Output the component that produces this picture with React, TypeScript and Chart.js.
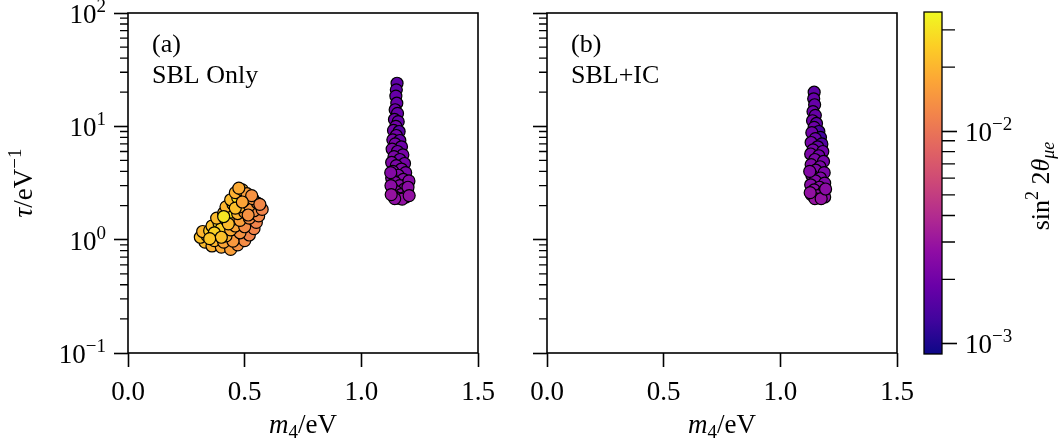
import React, { useEffect, useRef } from "react";
import { Chart, registerables } from "chart.js";

Chart.register(...registerables);

// ---------------- data ----------------
// (a) SBL only: low-mass island and high-mass column
const sblM4 = [
  0.33, 0.36, 0.40, 0.44, 0.47, 0.50, 0.31, 0.34, 0.37, 0.41, 0.45, 0.52, 0.32, 0.35, 0.38,
  0.42, 0.48, 0.54, 0.36, 0.39, 0.40, 0.44, 0.46, 0.50, 0.55, 0.38, 0.42, 0.45, 0.48, 0.52,
  0.56, 0.41, 0.44, 0.47, 0.50, 0.54, 0.575, 0.42, 0.45, 0.48, 0.52, 0.555, 0.44, 0.47, 0.50,
  0.535, 0.46, 0.49, 0.51, 0.53, 0.475, 0.43, 0.37, 0.41, 0.46, 0.49, 0.515, 0.565, 0.40, 0.35,
  1.153, 1.150, 1.148, 1.152, 1.145, 1.155, 1.142, 1.158, 1.148, 1.138, 1.162, 1.150, 1.135, 1.165, 1.145,
  1.172, 1.132, 1.155, 1.178, 1.140, 1.165, 1.130, 1.185, 1.150, 1.172, 1.135, 1.190, 1.158, 1.130, 1.180,
  1.145, 1.195, 1.165, 1.132, 1.185, 1.150, 1.198, 1.170, 1.138, 1.190, 1.158, 1.175, 1.143,
  1.126, 1.204, 1.127, 1.200, 1.128, 1.205,
];
const sblTau = [
  0.95, 0.88, 0.86, 0.82, 0.90, 0.98, 1.05, 1.08, 0.98, 0.95, 0.97, 1.10, 1.18, 1.20, 1.12,
  1.08, 1.15, 1.25, 1.32, 1.40, 1.25, 1.22, 1.32, 1.30, 1.42, 1.55, 1.50, 1.52, 1.48, 1.55,
  1.62, 1.72, 1.75, 1.70, 1.75, 1.80, 1.85, 1.95, 2.05, 1.95, 2.00, 2.10, 2.25, 2.35, 2.25,
  2.30, 2.60, 2.75, 2.55, 2.45, 2.85, 1.38, 1.15, 1.60, 1.90, 2.15, 1.65, 2.05, 1.05, 1.02,
  24, 21, 18.5, 16, 14, 13, 11.5, 11, 10, 9.2, 9.0, 8.3, 7.6, 7.5, 7.0,
  6.6, 6.3, 6.0, 5.6, 5.4, 5.1, 4.8, 4.7, 4.5, 4.2, 4.0, 3.9, 3.7, 3.5, 3.4,
  3.2, 3.1, 3.0, 2.85, 2.8, 2.65, 2.6, 2.5, 2.45, 2.38, 2.32, 2.28, 2.3,
  3.9, 3.3, 3.0, 2.9, 2.5, 2.45,
];
const sblSin2 = [
  0.021, 0.019, 0.018, 0.016, 0.014, 0.013, 0.022, 0.024, 0.020, 0.017, 0.015, 0.012, 0.020, 0.024, 0.023,
  0.019, 0.014, 0.012, 0.022, 0.028, 0.025, 0.018, 0.017, 0.013, 0.012, 0.021, 0.024, 0.019, 0.016, 0.013,
  0.0125, 0.022, 0.030, 0.020, 0.016, 0.013, 0.012, 0.020, 0.029, 0.019, 0.015, 0.013, 0.021, 0.030, 0.018,
  0.014, 0.019, 0.021, 0.016, 0.014, 0.018, 0.021, 0.026, 0.031, 0.022, 0.017, 0.014, 0.0125, 0.022, 0.023,
  0.0017, 0.0017, 0.0018, 0.0018, 0.0019, 0.0018, 0.0019, 0.0018, 0.0020, 0.0020, 0.0016, 0.0020, 0.0021, 0.0018, 0.0021,
  0.0019, 0.0022, 0.0020, 0.0021, 0.0022, 0.0020, 0.0023, 0.0021, 0.0022, 0.0023, 0.0024, 0.0022, 0.0023, 0.0025, 0.0024,
  0.0024, 0.0023, 0.0025, 0.0026, 0.0025, 0.0026, 0.0024, 0.0027, 0.0027, 0.0026, 0.0028, 0.0028, 0.0027,
  0.0024, 0.0025, 0.0026, 0.0026, 0.0029, 0.0028,
];

// (b) SBL + IC
const icM4 = [
  1.145, 1.143, 1.147, 1.140, 1.150, 1.138, 1.155, 1.145, 1.165, 1.135, 1.172, 1.150, 1.132, 1.178, 1.160,
  1.140, 1.182, 1.130, 1.165, 1.148, 1.185, 1.132, 1.170, 1.152, 1.188, 1.135, 1.172, 1.150, 1.190, 1.130,
  1.168, 1.145, 1.185, 1.133, 1.160, 1.190, 1.148, 1.175, 1.126, 1.194, 1.128,
];
const icTau = [
  20, 17.5, 15.5, 13.5, 12.5, 11.2, 10.6, 9.8, 9.0, 8.8, 8.0, 7.8, 7.2, 7.0, 6.6,
  6.2, 6.0, 5.7, 5.5, 5.1, 4.9, 4.6, 4.4, 4.1, 3.9, 3.7, 3.5, 3.3, 3.15, 3.05,
  2.9, 2.75, 2.65, 2.5, 2.45, 2.38, 2.3, 2.3, 4.0, 2.8, 2.6,
];
const icSin2 = [
  0.0017, 0.0018, 0.0018, 0.0019, 0.0018, 0.0020, 0.0017, 0.0019, 0.0014, 0.0020, 0.0013, 0.0019, 0.0021, 0.0015, 0.0018,
  0.0021, 0.0020, 0.0022, 0.0020, 0.0022, 0.0021, 0.0023, 0.0022, 0.0023, 0.0022, 0.0024, 0.0023, 0.0024, 0.0023, 0.0025,
  0.0025, 0.0026, 0.0025, 0.0027, 0.0027, 0.0026, 0.0029, 0.0028, 0.0024, 0.0026, 0.0028,
];

// ticks / labels
const xTicks = [0, 0.5, 1.0, 1.5];
const yMajor = [0.1, 1, 10, 100];
const yMajorExp = ["\u22121", "0", "1", "2"];
const cbarMajor = [0.001, 0.01];
const cbarMajorExp = ["\u22123", "\u22122"];
const cbarMin = 8.9e-4;
const cbarMax = 0.0364;
const panelTags = ["(a)", "(b)"];
const panelNames = ["SBL Only", "SBL+IC"];

// minor tick positions (2..9 x decade)
const yMinor: number[] = [];
for (const d of [0.1, 1, 10]) for (let k = 2; k <= 9; k++) yMinor.push(k * d);
const cbarMinor: number[] = [];
for (const d of [0.001, 0.01]) for (let k = 2; k <= 9; k++) if (k * d < cbarMax) cbarMinor.push(k * d);

// ---------------- style ----------------
const W = 1064;
const H = 443;
const TOP = 13;
const BOTTOM = 353;
const FONT = "'Liberation Serif', 'DejaVu Serif', serif";
const PANELS = [
  { left: 128, right: 478, yW: 128 },
  { left: 547, right: 897, yW: 40 },
];

const PLASMA: number[][] = [
  [13, 8, 135], [65, 4, 157], [106, 0, 168], [143, 13, 164], [177, 42, 144], [204, 71, 120],
  [225, 100, 98], [242, 132, 75], [252, 166, 54], [252, 206, 37], [240, 249, 33],
];
function plasmaAt(t: number): string {
  const tt = Math.max(0, Math.min(1, t)) * (PLASMA.length - 1);
  const i = Math.min(PLASMA.length - 2, Math.floor(tt));
  const f = tt - i;
  const a = PLASMA[i], b = PLASMA[i + 1];
  const c = a.map((v, k) => Math.round(v + (b[k] - v) * f));
  return `rgb(${c[0]},${c[1]},${c[2]})`;
}
function colorFor(v: number): string {
  const lo = Math.log10(cbarMin), hi = Math.log10(cbarMax);
  return plasmaAt((Math.log10(v) - lo) / (hi - lo));
}

type Seg = { t: string; size: number; style?: string; dy?: number };
function drawRich(ctx: CanvasRenderingContext2D, segs: Seg[], x: number, y: number, align: string, rot = 0) {
  ctx.save();
  ctx.translate(x, y);
  if (rot) ctx.rotate(rot);
  ctx.textAlign = "left";
  ctx.textBaseline = "alphabetic";
  ctx.fillStyle = "#000";
  const fontOf = (s: Seg) => `${s.style || "normal"} ${s.size}px ${FONT}`;
  let w = 0;
  for (const s of segs) { ctx.font = fontOf(s); w += ctx.measureText(s.t).width; }
  let cx = align === "left" ? 0 : align === "center" ? -w / 2 : -w;
  for (const s of segs) {
    ctx.font = fontOf(s);
    ctx.fillText(s.t, cx, s.dy || 0);
    cx += ctx.measureText(s.t).width;
  }
  ctx.restore();
}

const panelDecor = {
  id: "panelDecor",
  afterDraw(chart: any, _args: any, opts: any) {
    const i = opts.index as number;
    const ctx: CanvasRenderingContext2D = chart.ctx;
    const a = chart.chartArea;
    const ys = chart.scales.y;
    ctx.save();
    ctx.strokeStyle = "#000";
    ctx.lineWidth = 1.6;
    ctx.strokeRect(a.left, a.top, a.right - a.left, a.bottom - a.top);
    ctx.beginPath();
    for (const v of yMinor) {
      const py = ys.getPixelForValue(v);
      ctx.moveTo(a.left - 8, py);
      ctx.lineTo(a.left, py);
    }
    ctx.lineWidth = 1.3;
    ctx.stroke();
    if (i === 0) {
      yMajor.forEach((v, k) => {
        const py = ys.getPixelForValue(v);
        drawRich(ctx, [{ t: "10", size: 27 }, { t: yMajorExp[k], size: 19, dy: -11 }], 106, py + 10, "right");
      });
      drawRich(
        ctx,
        [{ t: "\u03c4", size: 27, style: "italic" }, { t: "/eV", size: 27 }, { t: "\u22121", size: 19, dy: -11 }],
        32, (a.top + a.bottom) / 2, "center", -Math.PI / 2
      );
    }
    drawRich(
      ctx,
      [{ t: "m", size: 27, style: "italic" }, { t: "4", size: 19, dy: 5 }, { t: "/eV", size: 27 }],
      (a.left + a.right) / 2, 433, "center"
    );
    drawRich(ctx, [{ t: panelTags[i], size: 26 }], a.left + 24, 52, "left");
    drawRich(ctx, [{ t: panelNames[i], size: 26 }], a.left + 24, 83, "left");
    ctx.restore();
  },
};

const cbarDecor = {
  id: "cbarDecor",
  beforeDatasetsDraw(chart: any) {
    const ctx: CanvasRenderingContext2D = chart.ctx;
    const a = chart.chartArea;
    const g = ctx.createLinearGradient(0, a.bottom, 0, a.top);
    PLASMA.forEach((_c, k) => g.addColorStop(k / (PLASMA.length - 1), plasmaAt(k / (PLASMA.length - 1))));
    ctx.save();
    ctx.fillStyle = g;
    ctx.fillRect(a.left, a.top, a.right - a.left, a.bottom - a.top);
    ctx.restore();
  },
  afterDraw(chart: any) {
    const ctx: CanvasRenderingContext2D = chart.ctx;
    const a = chart.chartArea;
    const ys = chart.scales.y;
    ctx.save();
    ctx.strokeStyle = "#000";
    ctx.lineWidth = 1.3;
    ctx.strokeRect(a.left, a.top, a.right - a.left, a.bottom - a.top);
    ctx.beginPath();
    for (const v of cbarMinor) {
      const py = ys.getPixelForValue(v);
      ctx.moveTo(a.right, py);
      ctx.lineTo(a.right + 13, py);
    }
    ctx.lineWidth = 1.3;
    ctx.stroke();
    cbarMajor.forEach((v, k) => {
      const py = ys.getPixelForValue(v);
      drawRich(ctx, [{ t: "10", size: 27 }, { t: cbarMajorExp[k], size: 19, dy: -11 }], 965, py + 10, "left");
    });
    drawRich(
      ctx,
      [
        { t: "sin", size: 26 },
        { t: "2", size: 18, dy: -11 },
        { t: " 2", size: 26 },
        { t: "\u03b8", size: 26, style: "italic" },
        { t: "\u03bce", size: 18, style: "italic", dy: 5 },
      ],
      1049, 186, "center", -Math.PI / 2
    );
    ctx.restore();
  },
};

function makePanel(canvas: HTMLCanvasElement, i: number) {
  const p = PANELS[i];
  const m4 = i === 0 ? sblM4 : icM4;
  const tau = i === 0 ? sblTau : icTau;
  const s2 = i === 0 ? sblSin2 : icSin2;
  const data = m4.map((x, k) => ({ x, y: tau[k] }));
  return new Chart(canvas, {
    type: "scatter",
    data: {
      datasets: [
        {
          data,
          pointRadius: 6,
          pointHoverRadius: 6,
          pointBackgroundColor: s2.map(colorFor),
          pointBorderColor: "#000",
          pointBorderWidth: 1.2,
        },
      ],
    },
    options: {
      animation: false,
      responsive: false,
      events: [],
      layout: { padding: { left: p.left - p.yW, right: W - p.right, top: TOP, bottom: 0 } },
      plugins: { legend: { display: false }, tooltip: { enabled: false }, panelDecor: { index: i } } as any,
      scales: {
        x: {
          type: "linear",
          min: 0,
          max: 1.5,
          afterBuildTicks: (s: any) => { s.ticks = xTicks.map((v) => ({ value: v })); },
          afterFit: (s: any) => { s.height = H - BOTTOM; },
          grid: { drawOnChartArea: false, drawTicks: true, tickLength: 14, tickWidth: 1.6, tickColor: "#000" },
          border: { display: false },
          ticks: {
            font: { family: FONT, size: 27 },
            color: "#000",
            padding: 10,
            maxRotation: 0,
            autoSkip: false,
            callback: (v: any) => Number(v).toFixed(1),
          },
        },
        y: {
          type: "logarithmic",
          min: 0.1,
          max: 100,
          afterBuildTicks: (s: any) => { s.ticks = yMajor.map((v) => ({ value: v, major: true })); },
          afterFit: (s: any) => { s.width = p.yW; },
          grid: { drawOnChartArea: false, drawTicks: true, tickLength: 14, tickWidth: 1.6, tickColor: "#000" },
          border: { display: false },
          ticks: { autoSkip: false, callback: () => "" },
        },
      },
    } as any,
    plugins: [panelDecor],
  });
}

function makeCbar(canvas: HTMLCanvasElement) {
  return new Chart(canvas, {
    type: "scatter",
    data: { datasets: [] },
    options: {
      animation: false,
      responsive: false,
      events: [],
      layout: { padding: { left: 924, right: 0, top: 12, bottom: H - 354 } },
      plugins: { legend: { display: false }, tooltip: { enabled: false } },
      scales: {
        x: { display: false, min: 0, max: 1 },
        y: {
          type: "logarithmic",
          position: "right",
          min: cbarMin,
          max: cbarMax,
          afterBuildTicks: (s: any) => { s.ticks = cbarMajor.map((v) => ({ value: v, major: true })); },
          afterFit: (s: any) => { s.width = W - 942; },
          grid: { drawOnChartArea: false, drawTicks: true, tickLength: 15, tickWidth: 1.6, tickColor: "#000" },
          border: { display: false },
          ticks: { autoSkip: false, callback: () => "" },
        },
      },
    } as any,
    plugins: [cbarDecor],
  });
}

export default function App() {
  const r1 = useRef<HTMLCanvasElement>(null);
  const r2 = useRef<HTMLCanvasElement>(null);
  const r3 = useRef<HTMLCanvasElement>(null);
  useEffect(() => {
    const charts = [makePanel(r1.current!, 0), makePanel(r2.current!, 1), makeCbar(r3.current!)];
    return () => charts.forEach((c) => c.destroy());
  }, []);
  const cs: React.CSSProperties = { position: "absolute", left: 0, top: 0, width: W, height: H };
  return (
    <div style={{ position: "fixed", left: 0, top: 0, width: W, height: H, background: "#fff" }}>
      <canvas ref={r1} width={W} height={H} style={cs} />
      <canvas ref={r2} width={W} height={H} style={cs} />
      <canvas ref={r3} width={W} height={H} style={cs} />
    </div>
  );
}
